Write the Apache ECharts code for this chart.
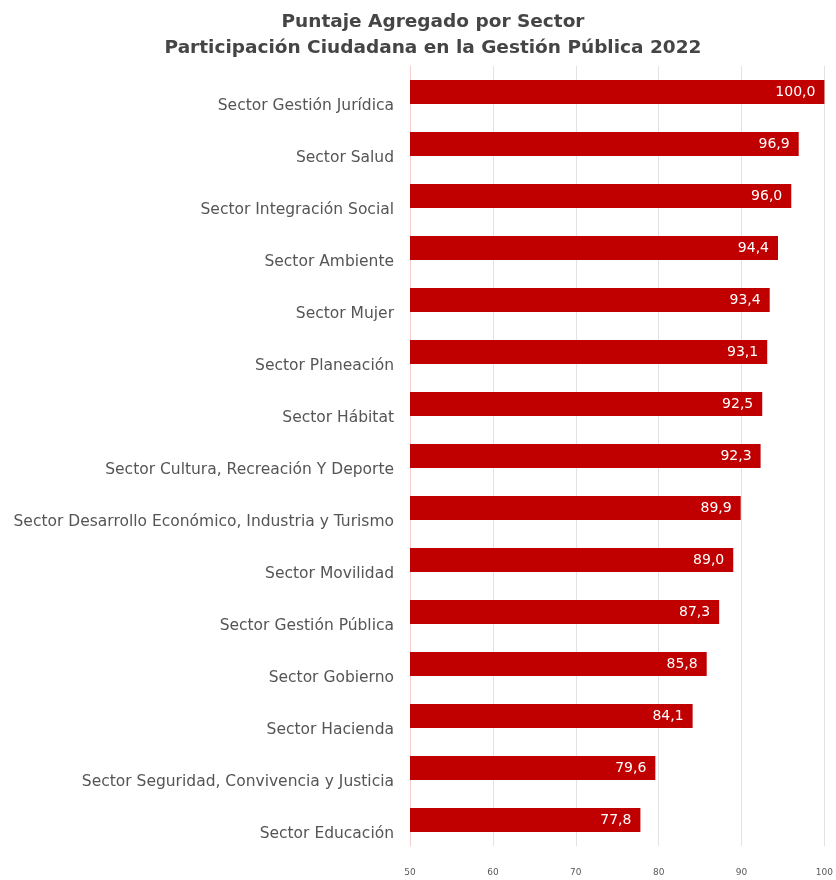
<!DOCTYPE html>
<html><head><meta charset="utf-8">
<script src="https://cdn.jsdelivr.net/npm/echarts@6/dist/echarts.min.js"></script>
<style>html,body{margin:0;padding:0;background:#fff}#c{width:836px;height:880px}</style>
</head><body><div id="c"></div>
<script>
const categories = [
  "Sector Gestión Jurídica",
  "Sector Salud",
  "Sector Integración Social",
  "Sector Ambiente",
  "Sector Mujer",
  "Sector Planeación",
  "Sector Hábitat",
  "Sector Cultura, Recreación Y Deporte",
  "Sector Desarrollo Económico, Industria y Turismo",
  "Sector Movilidad",
  "Sector Gestión Pública",
  "Sector Gobierno",
  "Sector Hacienda",
  "Sector Seguridad, Convivencia y Justicia",
  "Sector Educación"
];
const values = [100.0, 96.9, 96.0, 94.4, 93.4, 93.1, 92.5, 92.3, 89.9, 89.0, 87.3, 85.8, 84.1, 79.6, 77.8];
const xTicks = [50, 60, 70, 80, 90, 100];

const chart = echarts.init(document.getElementById('c'));
chart.setOption({
  animation: false,
  title: {
    text: 'Puntaje Agregado por Sector\nParticipación Ciudadana en la Gestión Pública 2022',
    left: 428, top: 4, textAlign: 'center',
    textStyle: { fontFamily: 'DejaVu Sans', fontSize: 18.5, fontWeight: 'bold', color: '#454545', lineHeight: 26 }
  },
  grid: { left: 410, right: 6, top: 66, bottom: 34, containLabel: false },
  xAxis: {
    type: 'value', min: xTicks[0], max: xTicks[xTicks.length - 1], interval: 10,
    axisLine: { show: false }, axisTick: { show: false },
    splitLine: { lineStyle: { color: '#e3e3e3', width: 1 } },
    axisLabel: { fontFamily: 'DejaVu Sans', fontSize: 9, color: '#595959', margin: 22 }
  },
  yAxis: {
    type: 'category', data: categories, inverse: true,
    axisLine: { show: true, lineStyle: { color: '#f5d0d0' } }, axisTick: { show: false },
    axisLabel: { fontFamily: 'DejaVu Sans', fontSize: 15.5, color: '#555555', margin: 16, verticalAlign: 'top', lineHeight: 27 }
  },
  series: [{
    type: 'bar', data: values, barWidth: 24,
    itemStyle: { color: '#C00000' },
    label: {
      show: true, position: 'insideRight', distance: 9,
      fontFamily: 'DejaVu Sans', fontSize: 14, color: '#ffffff',
      formatter: p => p.value.toFixed(1).replace('.', ',')
    }
  }]
});
</script></body></html>
